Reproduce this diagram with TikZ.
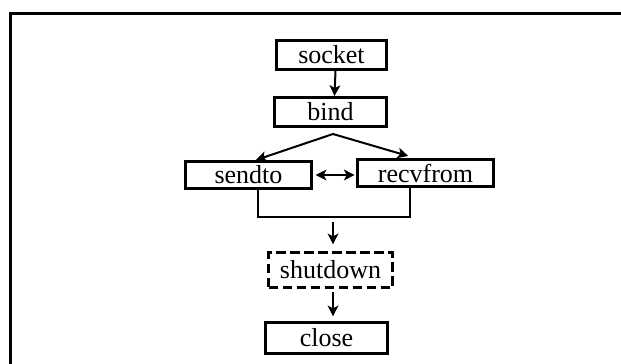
\documentclass[tikz,border=0pt]{standalone}
\usepackage{fontspec}
\setmainfont{Liberation Serif}
\usetikzlibrary{arrows.meta}
\tikzset{
	callbox/.style={draw, line width=2.25pt, inner sep=0pt, font=\fontsize{19.5}{23}\selectfont},
	flowarrow/.style={line width=1.5pt, -{Stealth[length=8pt, width=8pt, inset=2pt]}},
	flowline/.style={line width=1.5pt}
}

\begin{document}
\begin{tikzpicture}[x=0.75pt, y=-0.75pt]
			%%%%% START %%%%%
			
			\useasboundingbox (0, 0) rectangle (621, 364);
			\clip (0, 0) rectangle (621, 364);
			\draw[line width=2.25pt] (10, 400) -- (10, 13) -- (660, 13);
			
			\node[callbox, minimum width=82.5pt, minimum height=21.75pt] (socket) at (331.5, 55) {socket};
			\node[callbox, minimum width=84pt, minimum height=21.75pt] (bind) at (330.5, 112) {bind};
			\node[callbox, minimum width=94.5pt, minimum height=20.25pt] (sendto) at (248.5, 175) {sendto};
			\node[callbox, minimum width=102pt, minimum height=20.25pt] (recvfrom) at (425.5, 173) {recvfrom};
			\node[callbox, dash pattern=on 7pt off 3.5pt, minimum width=93pt, minimum height=26.25pt] (shutdown) at (330.5, 270) {shutdown};
			\node[callbox, minimum width=91.5pt, minimum height=23.25pt] (close) at (326.5, 338) {close};
			
			\coordinate (fork) at (333, 134);
			\coordinate (mergeL) at (258, 217);
			\coordinate (mergeR) at (410, 217);
			\coordinate (merge) at (333, 222);
			
			\draw[flowarrow] ([xshift=3pt]socket.south) -- ([xshift=3pt]bind.north);
			
			\draw[flowarrow] (fork) -- ([xshift=5.6pt]sendto.north);
			\draw[flowarrow] (fork) -- ([xshift=-13pt, yshift=1.5pt]recvfrom.north);
			\draw[line width=1.5pt, {Stealth[length=8pt, width=8pt, inset=2pt]}-{Stealth[length=8pt, width=8pt, inset=2pt]}, shorten <=2pt, shorten >=1pt] (sendto.east) -- (sendto.east -| recvfrom.west);
			
			\draw[flowline] (sendto.south -| mergeL) -- (mergeL) -- (mergeR) -- (recvfrom.south -| mergeR);
			\draw[flowarrow, shorten >=5pt] (merge) -- (merge |- shutdown.north);
			\draw[flowarrow, shorten <=2pt, shorten >=3.5pt] (shutdown.south -| merge) -- (close.north -| merge);
			
			%%%%% END %%%%%
\end{tikzpicture}
\end{document}
